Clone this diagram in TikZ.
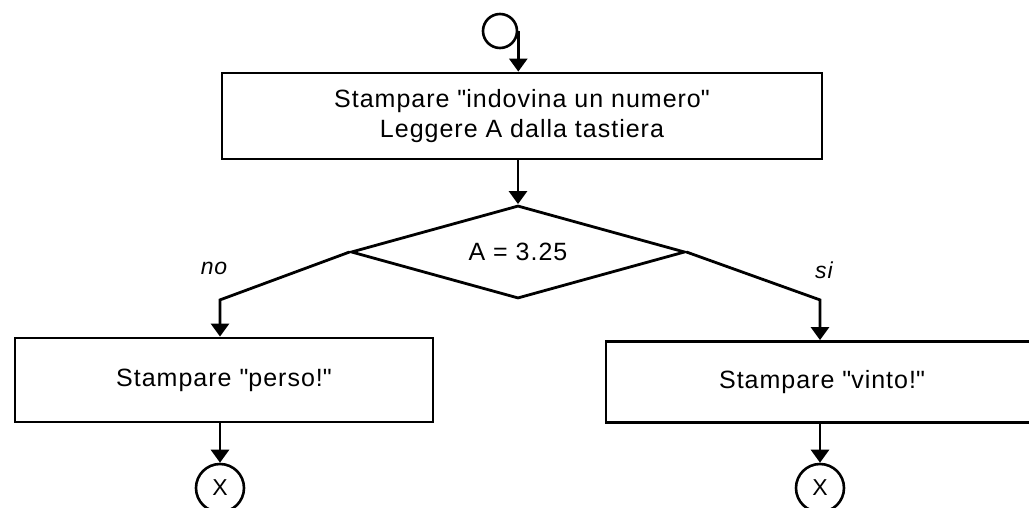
\documentclass[tikz,border=0pt]{standalone}
\usepackage{fontspec}
\setmainfont{Liberation Sans}[LetterSpace=4]
\usetikzlibrary{shapes.geometric,arrows.meta}
\tikzset{
    flow-box/.style = {draw, line width=2.8pt, rectangle, inner sep=0pt, align=center, font=\fontsize{25}{30}\selectfont},
    flow-test/.style = {draw, line width=2.8pt, diamond, shape aspect=3.6, inner sep=0pt, minimum width=334pt, minimum height=93pt, font=\fontsize{25}{30}\selectfont},
    flow-term/.style = {draw, line width=2.6pt, circle, inner sep=0pt, font=\fontsize{23}{24}\selectfont},
    flow-arrow/.style = {line width=2.8pt, -{Triangle[width=18pt,length=13pt]}},
    flow-label/.style = {font=\fontsize{23}{24}\itshape},
}
\begin{document}
\begin{tikzpicture}[x=1pt,y=-1pt]
\useasboundingbox (0,0) rectangle (1029,508);
% start
\node[flow-term, minimum size=34pt] (start) at (500,31) {};
\node[flow-box, minimum width=600pt, minimum height=86pt] (read) at (522,116) {Stampare \textquotedbl indovina un numero\textquotedbl\\Leggere A dalla tastiera};
\node[flow-test] (test) at (518,252) {A = 3.25};
% the two outcomes
\node[flow-box, minimum width=418pt, minimum height=84pt] (lost) at (224,380) {Stampare \textquotedbl perso!\textquotedbl};
\node[flow-box, minimum width=432pt, minimum height=81pt] (won) at (822,382) {Stampare \textquotedbl vinto!\textquotedbl};
\node[flow-term, minimum size=48pt] (endlost) at (220,488) {X};
\node[flow-term, minimum size=48pt] (endwon) at (820,488) {X};
\node[flow-label] at (214,268) {no};
\node[flow-label] at (824,270) {si};

\draw[flow-arrow] (start.east) -- (start.east |- read.north);
\draw[flow-arrow] (read.south -| test.north) -- (test.north);
\draw[flow-arrow] (test.west) -- (endlost.north |- test.south) -- (endlost.north |- lost.north);
\draw[flow-arrow] (test.east) -- (endwon.north |- test.south) -- (endwon.north |- won.north);
\draw[flow-arrow] (endlost.north |- lost.south) -- (endlost.north);
\draw[flow-arrow] (endwon.north |- won.south) -- (endwon.north);
\end{tikzpicture}
\end{document}
